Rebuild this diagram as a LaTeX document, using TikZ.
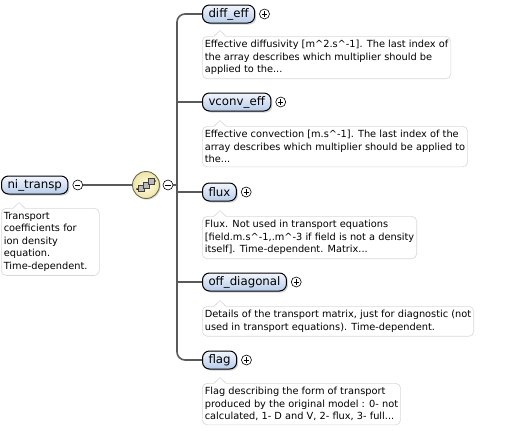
\documentclass[tikz,border=0pt]{standalone}
\usepackage{fontspec}
\setmainfont{DejaVu Sans}
\usetikzlibrary{shadows,positioning}
\definecolor{elemtop}{HTML}{F2F6FD}
\definecolor{elembot}{HTML}{B8CCEA}
\definecolor{docline}{HTML}{D8D8D8}
\definecolor{wirecol}{HTML}{5A5A5A}
\definecolor{seqin}{HTML}{FFFDE4}
\definecolor{seqout}{HTML}{EFE5A6}
\definecolor{seqedge}{HTML}{6E6A50}
\tikzset{
  elem/.style={draw=black, line width=1pt, rounded corners=7pt,
    top color=elemtop, bottom color=elembot, minimum height=18pt,
    inner xsep=6pt, inner ysep=0pt, anchor=west,
    font=\fontsize{11.8}{13}\selectfont,
    drop shadow={shadow xshift=1.5pt, shadow yshift=-1.5pt, opacity=0.35}},
  doc/.style={draw=docline, line width=0.6pt, fill=white, rounded corners=5pt,
    align=left, anchor=north west, inner xsep=2.5pt, inner ysep=4pt,
    font=\fontsize{9.8}{12.5}\selectfont},
  pmminus/.style={circle, draw=black, fill=white, line width=0.6pt,
    minimum size=10pt, inner sep=0pt,
    path picture={\draw[line width=0.7pt]
      ([xshift=-2.6pt]path picture bounding box.center) --
      ([xshift=2.6pt]path picture bounding box.center);}},
  pmplus/.style={circle, draw=black, fill=white, line width=0.6pt,
    minimum size=10pt, inner sep=0pt,
    path picture={\draw[line width=0.7pt]
      ([xshift=-2.6pt]path picture bounding box.center) --
      ([xshift=2.6pt]path picture bounding box.center)
      ([yshift=-2.6pt]path picture bounding box.center) --
      ([yshift=2.6pt]path picture bounding box.center);}},
  seqbox/.style={circle, draw=seqedge, line width=0.9pt, minimum size=27pt,
    inner color=seqin, outer color=seqout,
    drop shadow={shadow xshift=1.2pt, shadow yshift=-1.2pt, opacity=0.3}},
  wire/.style={draw=wirecol, line width=1.6pt},
  cell/.style={draw=black!75, fill=gray!55, line width=0.5pt}
}
\newcommand{\docnotch}[1]{%
  \fill[white] ([xshift=12pt,yshift=-0.8pt]#1.north west) --
    ([xshift=18pt,yshift=5.5pt]#1.north west) --
    ([xshift=24pt,yshift=-0.8pt]#1.north west) -- cycle;
  \draw[docline, line width=0.6pt] ([xshift=12pt,yshift=-0.3pt]#1.north west) --
    ([xshift=18pt,yshift=5.5pt]#1.north west) --
    ([xshift=24pt,yshift=-0.3pt]#1.north west);}

\begin{document}
\begin{tikzpicture}[x=1pt, y=-1pt]
\useasboundingbox (0,0) rectangle (506,431);
% root element
\node[elem] (ni) at (1,185) {ni\_transp};
\node[pmminus, right=4pt of ni] (nim) {};
\node[doc, text width=93pt] (nidoc) at (1,208) {Transport\\coefficients for\\ion density\\equation.\\Time-dependent.};
\docnotch{nidoc}
%
% sequence
\node[seqbox] (seq) at (146,185) {};
\begin{scope}[shift={(seq)}]
\draw[line width=0.6pt] (-9,4) -- (-5,4);
\draw[line width=0.6pt] (5,-4) -- (9,-4);
\fill (-9,4) circle (0.9);
\fill (9,-4) circle (0.9);
\draw[cell] (-8,0.5) rectangle (-2,6.5);
\draw[cell] (-3,-3) rectangle (3,3);
\draw[cell] (2,-6.5) rectangle (8,-0.5);
\end{scope}
\node[pmminus] (seqm) at (168,185) {};
\coordinate (spine) at (177,185);
%
% children
\node[elem] (diff) at (202,14) {diff\_eff};
\node[pmplus, right=4pt of diff] (diffp) {};
\node[doc] (diffdoc) at (202,36) {Effective diffusivity [m\textasciicircum2.s\textasciicircum-1]. The last index of\\the array describes which multiplier should be\\applied to the...};
\docnotch{diffdoc}

\node[elem] (vconv) at (202,102) {vconv\_eff};
\node[pmplus, right=4pt of vconv] (vconvp) {};
\node[doc] (vconvdoc) at (202,126) {Effective convection [m.s\textasciicircum-1]. The last index of the\\array describes which multiplier should be applied to\\the...};
\docnotch{vconvdoc}

\node[elem] (flux) at (202,192) {flux};
\node[pmplus, right=4pt of flux] (fluxp) {};
\node[doc] (fluxdoc) at (202,216) {Flux. Not used in transport equations\\{[}field.m.s\textasciicircum-1,.m\textasciicircum-3 if field is not a density\\itself]. Time-dependent. Matrix...};
\docnotch{fluxdoc}

\node[elem] (offd) at (202,282) {off\_diagonal};
\node[pmplus, right=4pt of offd] (offdp) {};
\node[doc] (offddoc) at (202,306) {Details of the transport matrix, just for diagnostic (not\\used in transport equations). Time-dependent.};
\docnotch{offddoc}

\node[elem] (flag) at (202,360) {flag};
\node[pmplus, right=4pt of flag] (flagp) {};
\node[doc] (flagdoc) at (202,383) {Flag describing the form of transport\\produced by the original model : 0- not\\calculated, 1- D and V, 2- flux, 3- full...};
\docnotch{flagdoc}
%
% connectors
\draw[wire] (nim) -- (seq);
\draw[wire] (seqm) -- (spine);
\draw[wire, rounded corners=8pt] (diff.west) -| (spine) |- (flag.west);
\foreach \n in {vconv,flux,offd}
  \draw[wire] (spine |- \n.west) -- (\n.west);
\end{tikzpicture}
\end{document}
